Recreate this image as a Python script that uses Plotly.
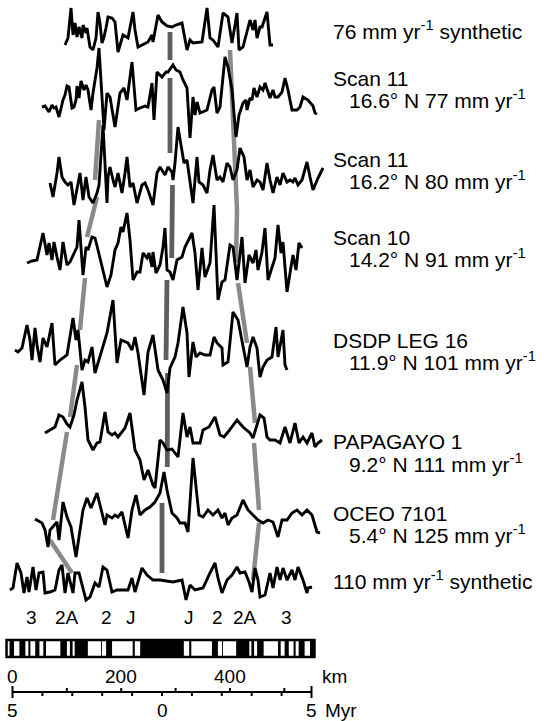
import plotly.graph_objects as go

# ---------------- profile data ----------------
# distance along profile (figure units) and magnetic anomaly (arbitrary units, up = positive)
x_syn76 = [65,68,71,73,75,77,79,82,83,86,87,90,93,96,98,100,102,104,106,108,112,115,118,121,123,128,133,135,138,148,152,153,158,162,167,172,176,182,187,190,193,202,207,210,213,218,223,228,232,237,239,243,247,250,253,255,257,260,262,267,270,273]
a_syn76 = [5,12,42,15,27,13,23,12,25,17,22,3,0,12,38,27,7,13,22,33,32,28,-2,7,15,12,38,20,3,8,15,8,35,28,24,23,25,27,0,10,7,8,42,12,10,3,37,33,7,37,0,3,17,30,20,30,12,23,23,38,5,5]

x_scan11a = [42,45,47,49,52,54,56,59,63,65,67,69,72,74,76,77,79,81,84,86,88,91,93,97,99,104,107,110,115,120,124,127,132,136,140,145,148,152,154,157,162,166,168,173,176,180,183,187,190,193,195,197,200,207,212,214,217,220,225,228,232,236,239,243,246,247,250,252,254,257,260,263,265,267,270,273,275,278,282,285,288,292,297,300,303,308,313,315,317]
a_scan11a = [13,14,11,8,15,12,13,3,20,25,34,33,12,13,20,34,22,39,30,35,30,10,27,52,72,-10,27,23,-7,27,32,20,58,10,12,14,13,37,0,48,43,48,48,55,50,48,40,32,-18,23,5,18,7,10,30,33,7,13,63,53,30,-17,5,17,20,10,22,20,32,23,33,30,37,30,22,30,23,23,28,42,30,10,10,13,23,20,14,7,6]

x_scan11b = [50,53,57,59,62,65,68,71,74,77,80,83,86,89,93,97,99,103,107,108,110,113,115,118,122,125,127,130,133,137,142,145,148,153,157,160,165,168,172,173,175,178,182,184,187,190,193,197,199,203,207,210,213,217,220,223,227,230,233,237,240,244,247,250,253,257,260,263,267,270,273,277,280,283,287,290,293,295,298,302,307,310,313,318,323]
a_scan11b = [17,3,27,43,23,18,15,18,-5,13,27,0,23,3,-3,7,15,75,-3,23,33,20,13,27,7,27,43,13,17,-3,15,17,10,-5,27,33,25,33,28,20,37,73,47,37,40,20,-3,43,18,15,7,30,45,20,23,18,37,33,20,30,52,43,20,30,13,20,18,10,37,20,7,23,15,27,18,20,18,22,15,20,38,23,10,22,32]

x_scan10 = [27,32,37,43,47,49,52,54,57,60,63,67,70,73,77,79,81,83,86,88,92,95,98,102,107,111,115,118,121,123,127,130,133,137,140,143,147,149,152,153,156,160,163,165,167,170,173,177,182,185,192,195,198,202,205,210,214,218,222,225,230,233,237,242,245,249,253,256,258,262,265,268,272,275,278,281,283,287,291,293,296,299,302]
a_scan10 = [17,19,20,47,25,37,20,38,23,10,38,15,18,25,33,60,33,5,33,30,43,42,30,13,-7,5,30,37,53,48,67,40,0,8,8,27,22,27,13,28,7,15,33,52,10,8,0,20,23,33,47,27,-10,32,3,17,75,-20,-2,0,35,33,0,43,-3,25,17,30,10,28,52,0,13,22,55,27,38,-12,13,25,10,37,32]

x_dsdp = [15,18,22,27,30,32,35,37,40,43,47,52,55,60,67,71,73,76,78,82,85,88,92,95,100,104,107,113,117,121,125,128,132,135,138,144,148,153,158,163,167,170,175,178,183,187,189,193,196,200,205,210,214,217,222,223,228,233,238,243,247,250,253,257,260,263,267,272,276,278,283,285,287]
a_dsdp = [20,18,22,45,30,10,42,25,8,32,23,47,5,10,15,37,52,30,40,0,10,8,23,-3,13,27,37,70,7,30,28,27,20,33,17,-25,18,35,0,-10,-23,2,13,27,63,37,-7,28,13,17,15,15,33,27,22,5,8,58,50,23,3,23,33,22,-7,3,10,13,43,13,40,5,0]

x_papagayo = [45,48,52,55,59,63,67,70,74,77,82,85,88,93,97,100,105,108,112,115,118,122,125,130,135,140,144,148,153,155,160,163,167,172,178,183,187,190,193,200,203,209,215,220,224,228,232,237,243,250,253,256,260,264,267,270,275,280,285,290,295,299,303,307,312,315,318,322]
a_papagayo = [17,19,21,23,35,33,26,23,35,50,68,43,10,0,7,8,38,18,15,17,13,18,22,37,0,-10,-30,-20,-35,-38,10,7,0,1,-7,37,13,23,7,7,20,23,33,15,13,18,23,30,23,17,12,22,35,32,13,10,10,7,23,7,27,7,13,7,17,3,7,10]

x_oceo = [35,42,45,48,50,53,57,59,63,67,71,76,80,83,87,91,97,101,105,107,112,115,118,122,128,132,136,140,145,150,155,160,164,167,172,177,180,185,188,193,199,203,208,213,218,222,225,228,232,237,243,248,253,258,263,268,273,278,282,287,292,297,302,307,312,314,317,320]
a_oceo = [11,7,0,-17,0,3,8,-10,28,13,3,-27,2,20,32,22,37,20,5,15,12,15,13,18,-8,20,35,15,20,23,28,37,58,40,17,12,7,7,-2,72,15,13,20,15,20,12,17,5,12,15,30,20,15,10,7,10,8,-7,10,10,17,20,15,20,15,7,-2,-3]

x_syn110 = [10,13,17,21,24,27,29,33,36,39,43,45,50,55,59,62,65,68,73,75,79,83,86,90,95,99,103,107,112,117,128,132,135,142,147,153,160,173,182,186,190,195,203,210,215,218,222,227,232,237,240,245,249,252,255,258,260,265,270,273,277,280,283,287,292,295,298,303,307,308,312]
a_syn110 = [10,12,37,27,7,23,8,33,10,27,28,7,8,10,30,35,7,27,7,27,27,13,0,3,17,13,33,30,8,10,10,22,8,32,25,20,20,18,20,0,15,10,12,27,37,22,7,20,25,33,27,28,18,8,32,20,3,5,27,12,33,20,32,20,30,20,33,20,7,12,13]

label_first = ["76 mm yr<sup>-1</sup> synthetic", "Scan 11", "Scan 11", "Scan 10",
               "DSDP LEG 16", "PAPAGAYO 1", "OCEO 7101", "110 mm yr<sup>-1</sup> synthetic"]
label_second = [None, "16.6° N 77 mm yr<sup>-1</sup>", "16.2° N 80 mm yr<sup>-1</sup>",
                "14.2° N 91 mm yr<sup>-1</sup>", "11.9° N 101 mm yr<sup>-1</sup>",
                "9.2° N 111 mm yr<sup>-1</sup>", "5.4° N 125 mm yr<sup>-1</sup>", None]

# correlation (isochron) lines: distance, row
corr_center_x = [[170,170],[170,170],[172.5,171.7],[167,166],[167.5,167.3],[162,162]]
corr_center_y = [[32,60],[78,153],[185,258],[280,360],[373,467],[503,573]]
corr_side_x = [[230,233,236,237,236],[238,247],[250,253,255],[254,259],[259,253],
               [99,95],[97,87],[85,80],[77,70],[67,53],[50,72]]
corr_side_y = [[50,110,170,210,262],[283,343],[367,410,423],[443,510],[523,580],
               [120,180],[197,237],[278,330],[365,417],[432,520],[540,573]]

# geomagnetic polarity timescale: normal-polarity intervals (Myr)
normal_intervals = [(0.91,0.98),(1.67,1.87),(2.01,2.04),(2.48,2.92),(2.99,3.08),(3.18,3.40),
                    (3.88,3.97),(4.10,4.24),(4.40,4.47),(4.57,4.77),(4.95,5.10)]
brunhes = 0.73
anomaly_names = ["3","2A","2","J","J","2","2A","3"]
anomaly_ages = [-4.35,-3.19,-1.84,-1.04,0.90,1.84,2.78,4.18]
km_ticks = [0, 200, 400]
myr_ticks = [-5, 0, 5]
half_rate = 55.0  # km per Myr (110 mm/yr full rate)

# ---------------- layout constants ----------------
W, H = 549, 721
offsets = [-50, -120, -200, -280, -370, -450, -530, -600]
label_rows = [(30, None), (78, 99), (159, 180), (237, 258), (340, 361), (441, 463), (513, 534), (580, None)]
x0_myr, px_per_myr = 162.0, 29.9
FONT = "Liberation Sans, Arial, Helvetica, sans-serif"

fig = go.Figure()

def add_lines(xs, ys, color, width, axis="x"):
    X, Y = [], []
    for xx, yy in zip(xs, ys):
        X += list(xx) + [None]
        Y += [-v for v in yy] + [None]
    fig.add_trace(go.Scatter(x=X, y=Y, mode="lines", xaxis=axis,
                             line=dict(color=color, width=width),
                             hoverinfo="skip", showlegend=False))

add_lines(corr_side_x, corr_side_y, "#8a8a8a", 4.5)
add_lines(corr_center_x, corr_center_y, "#5e5e5e", 4.8)

profiles = [(x_syn76, a_syn76), (x_scan11a, a_scan11a), (x_scan11b, a_scan11b),
            (x_scan10, a_scan10), (x_dsdp, a_dsdp), (x_papagayo, a_papagayo),
            (x_oceo, a_oceo), (x_syn110, a_syn110)]
for (xs, av), off in zip(profiles, offsets):
    fig.add_trace(go.Scatter(x=xs, y=[off + v for v in av], mode="lines",
                             line=dict(color="black", width=2.9),
                             hoverinfo="skip", showlegend=False))

ann = []
for (t1, t2), (r1, r2) in zip(zip(label_first, label_second), label_rows):
    ann.append(dict(x=331, y=-r1, xref="x", yref="y", text=t1, showarrow=False,
                    xanchor="left", yanchor="middle", font=dict(size=21, family=FONT, color="black")))
    if t2:
        ann.append(dict(x=347, y=-r2, xref="x", yref="y", text=t2, showarrow=False,
                        xanchor="left", yanchor="middle", font=dict(size=21, family=FONT, color="black")))

# polarity bar
shapes = []
bar_top, bar_bot = -640, -657
shapes.append(dict(type="rect", xref="x2", yref="y", x0=-brunhes, x1=brunhes, y0=bar_bot, y1=bar_top,
                   fillcolor="black", line=dict(width=0)))
for a, b in normal_intervals:
    for s0, s1 in ((a, b), (-b, -a)):
        shapes.append(dict(type="rect", xref="x2", yref="y", x0=s0, x1=s1, y0=bar_bot, y1=bar_top,
                           fillcolor="black", line=dict(width=0)))
shapes.append(dict(type="rect", xref="x2", yref="y", x0=-5.2, x1=5.1, y0=bar_bot, y1=bar_top,
                   fillcolor="rgba(0,0,0,0)", line=dict(color="black", width=2.5)))

for name, t in zip(anomaly_names, anomaly_ages):
    ann.append(dict(x=t, y=-617, xref="x2", yref="y", text=name, showarrow=False,
                    xanchor="center", yanchor="middle", font=dict(size=19, family=FONT, color="black")))

# scale bar
sy = -692
sx, syy = [-5, 5, None], [sy, sy, None]
for t in (-5, 5):
    sx += [t, t, None]; syy += [sy + 6, sy - 6, None]
for t in range(-4, 5):
    sx += [t, t, None]; syy += [sy, sy - 4, None]
for km in range(100, 550, 100):
    t = km / half_rate - 5
    sx += [t, t, None]; syy += [sy, sy + 4, None]
fig.add_trace(go.Scatter(x=sx, y=syy, xaxis="x2", mode="lines", line=dict(color="black", width=2),
                         hoverinfo="skip", showlegend=False))
for km in km_ticks:
    ann.append(dict(x=km / half_rate - 5, y=-676, xref="x2", yref="y", text=str(km), showarrow=False,
                    xanchor="center", yanchor="middle", font=dict(size=19, family=FONT, color="black")))
ann.append(dict(x=5.3, y=-676, xref="x2", yref="y", text="km", showarrow=False,
                xanchor="left", yanchor="middle", font=dict(size=19, family=FONT, color="black")))
for t in myr_ticks:
    ann.append(dict(x=t, y=-710, xref="x2", yref="y", text=str(abs(t)), showarrow=False,
                    xanchor="center", yanchor="middle", font=dict(size=19, family=FONT, color="black")))
ann.append(dict(x=5.4, y=-710, xref="x2", yref="y", text="Myr", showarrow=False,
                xanchor="left", yanchor="middle", font=dict(size=19, family=FONT, color="black")))

fig.update_layout(
    width=W, height=H, margin=dict(l=0, r=0, t=0, b=0),
    paper_bgcolor="white", plot_bgcolor="white",
    xaxis=dict(range=[0, W], visible=False, fixedrange=True),
    xaxis2=dict(range=[(0 - x0_myr) / px_per_myr, (W - x0_myr) / px_per_myr],
                overlaying="x", visible=False, fixedrange=True),
    yaxis=dict(range=[-H, 0], visible=False, fixedrange=True),
    annotations=ann, shapes=shapes, showlegend=False,
)
fig.write_html("out.html", config={"displayModeBar": False},
               post_script="document.body.style.margin='0';document.body.style.overflow='hidden';")
